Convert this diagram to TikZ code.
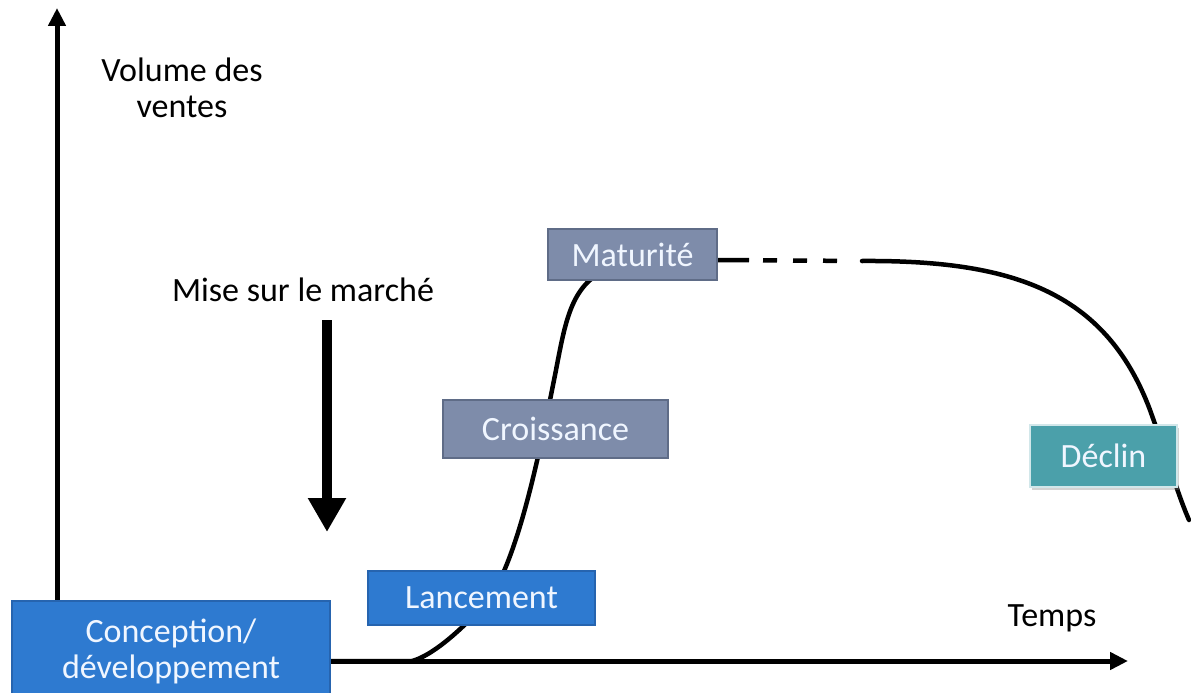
\documentclass[tikz,border=0pt]{standalone}
\usepackage{fontspec}
\setmainfont{Carlito}
\usetikzlibrary{arrows.meta,shadows}
\definecolor{blueb}{RGB}{46,122,208}
\definecolor{blueline}{RGB}{38,100,175}
\definecolor{grayb}{RGB}{126,140,170}
\definecolor{grayline}{RGB}{95,108,135}
\definecolor{tealb}{RGB}{75,160,170}
\definecolor{txtw}{RGB}{240,246,255}
\tikzset{
  phase/.style={draw, line width=1.2pt, text=txtw, font=\fontsize{34}{36}\selectfont, inner sep=0pt, align=center},
  bluephase/.style={phase, fill=blueb, draw=blueline},
  grayphase/.style={phase, fill=grayb, draw=grayline},
  tealphase/.style={phase, fill=tealb, draw=tealb!25!white, line width=2.5pt, drop shadow={shadow xshift=2pt, shadow yshift=-3pt, opacity=0.35}},
  lab/.style={font=\fontsize{34}{36}\selectfont, text=black, align=center, inner sep=0pt},
  axis/.style={line width=5pt, -{Triangle[length=18pt,width=17pt]}},
  curve/.style={line width=4.5pt, line cap=round}
}
\begin{document}
\begin{tikzpicture}[x=1pt,y=-1pt]
\useasboundingbox (0,0) rectangle (1191,693);
% coordinates
\coordinate (yb) at (57,620);
\coordinate (yt) at (57,8);
\coordinate (xl) at (330,661);
\coordinate (xr) at (1128,661);
\coordinate (ms) at (327,320);
\coordinate (me) at (327,532);
% axes
\draw[axis] (yb) -- (yt);
\draw[axis] (xl) -- (xr);
% labels
\node[lab] (vol) at (182,88) {Volume des\\ventes};
\node[lab] (temps) at (1052,618) {Temps};
\node[lab] (mise) at (303,290) {Mise sur le marché};
% big arrow
\draw[line width=10pt, -{Triangle[length=34pt,width=36pt]}] (ms) -- (me);
% curve
\draw[curve] (330,661) -- (412,661)
  .. controls (432,656) and (465,628) .. (492,595)
  .. controls (522,545) and (542,440) .. (556,370)
  .. controls (566,318) and (572,283) .. (610,268);
\coordinate (d0) at (717,260);
\coordinate (d1) at (862,261);
\draw[line width=4.5pt, dash pattern=on 32pt off 14pt on 14pt off 16pt on 14pt off 16pt on 14pt off 25pt] (d0) -- (d1);
\draw[curve] (d1) .. controls (1010,260) and (1105,290) .. (1150,410)
  .. controls (1168,460) and (1178,495) .. (1189,520);
% boxes
\node[bluephase, minimum width=318pt, minimum height=100pt] (conc) at (171,651) {Conception/\\développement};
\node[bluephase, minimum width=227pt, minimum height=54pt] (lanc) at (481.5,598) {Lancement};
\node[grayphase, minimum width=225pt, minimum height=58pt] (crois) at (555.5,429) {Croissance};
\node[grayphase, minimum width=169pt, minimum height=51pt] (mat) at (632.5,254.5) {Maturité};
\node[tealphase, minimum width=147pt, minimum height=62pt] (decl) at (1103.5,456) {Déclin};
\end{tikzpicture}
\end{document}
